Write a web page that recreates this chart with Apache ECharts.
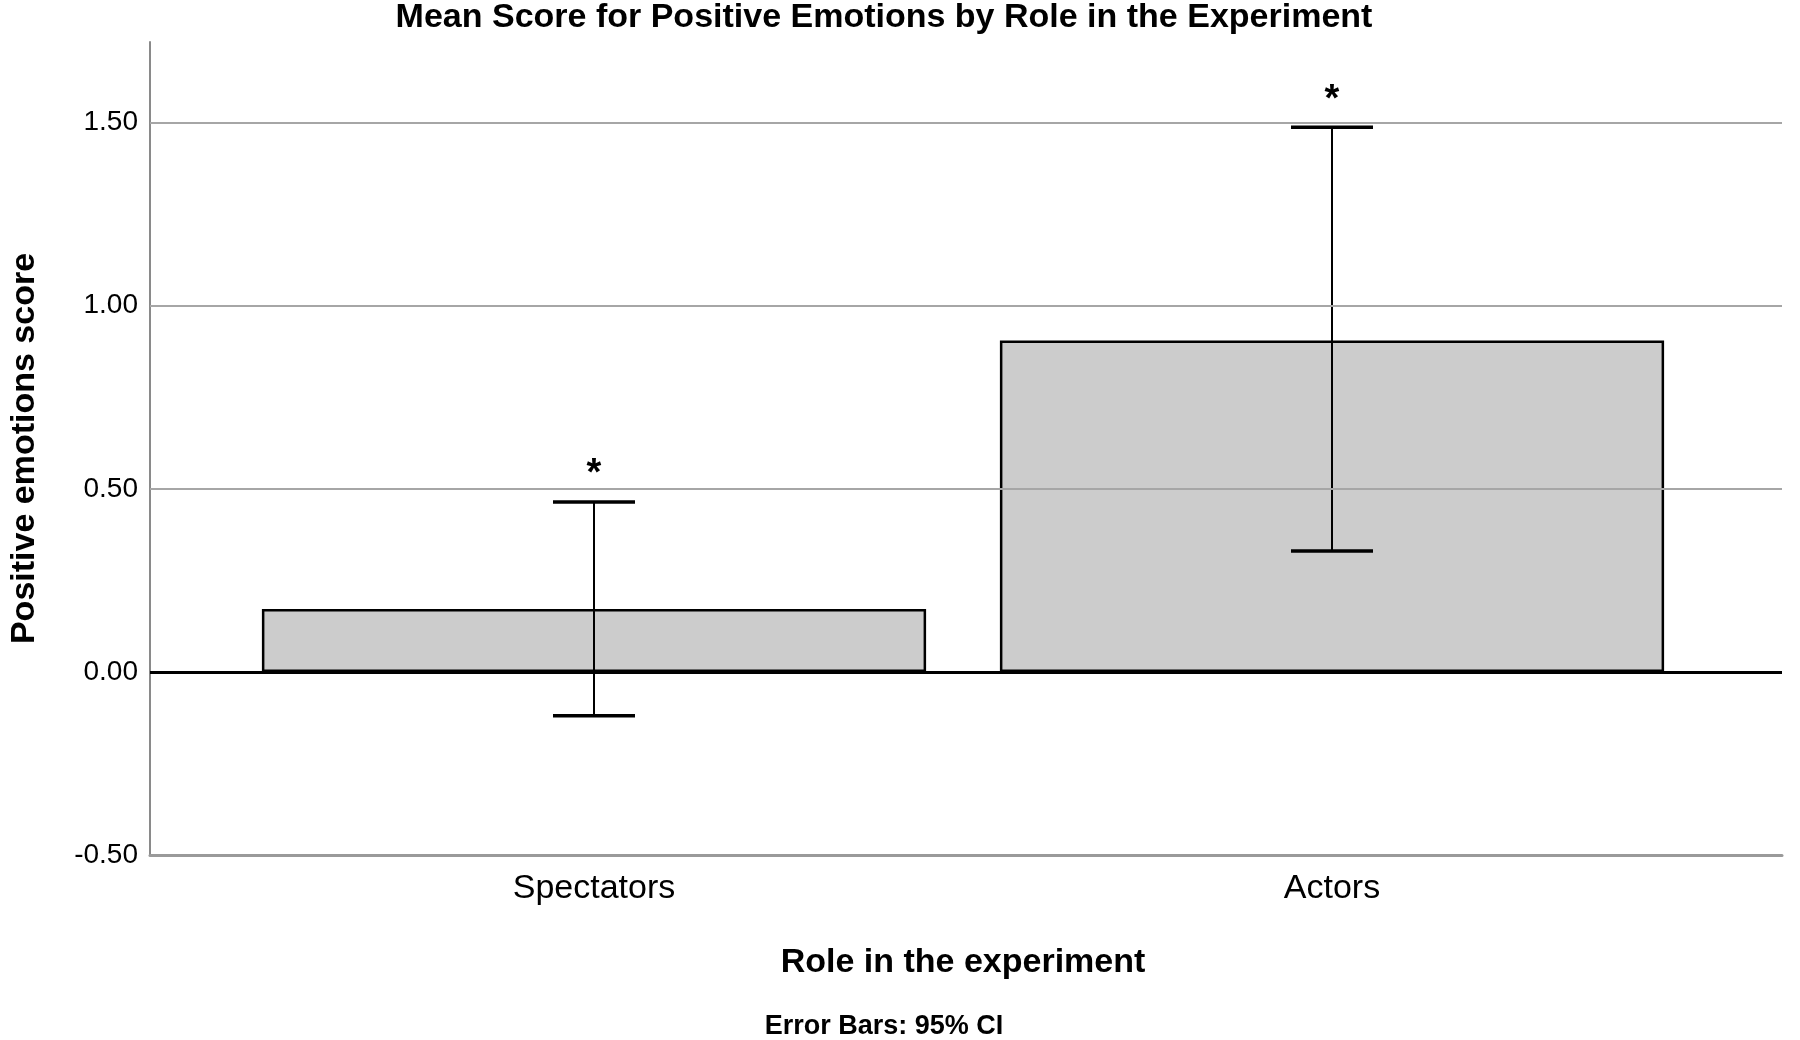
<!DOCTYPE html>
<html>
<head>
<meta charset="utf-8">
<script src="https://cdn.jsdelivr.net/npm/echarts@6/dist/echarts.min.js"></script>
<style>
html,body{margin:0;padding:0;background:#fff;}
#chart{width:1800px;height:1040px;}
</style>
</head>
<body>
<div id="chart"></div>
<script>
const categories = ['Spectators', 'Actors'];
const meanValues = [0.172, 0.905];
const ciLower = [-0.120, 0.330];
const ciUpper = [0.464, 1.487];
const significance = ['*', '*'];
const yTicks = [-0.5, 0.0, 0.5, 1.0, 1.5];
const gridTicks = [0.5, 1.0, 1.5];

const FONT = "'Liberation Sans', Arial, sans-serif";
const Y_MIN = -0.5, Y_MAX = 1.72;

const chart = echarts.init(document.getElementById('chart'), null, {renderer: 'canvas'});

const option = {
  backgroundColor: '#fff',
  animation: false,
  title: [
    {
      text: 'Mean Score for Positive Emotions by Role in the Experiment',
      left: 884, top: 1, textAlign: 'center', padding: 0,
      textStyle: {fontFamily: FONT, fontWeight: 'bold', fontSize: 34, color: '#000'}
    },
    {
      text: 'Error Bars: 95% CI',
      left: 884, top: 1013, textAlign: 'center', padding: 0,
      textStyle: {fontFamily: FONT, fontWeight: 'bold', fontSize: 27, color: '#000'}
    }
  ],
  grid: [
    {left: 142, right: 18, top: 42, bottom: 185},
    {left: 225, right: 99, top: 42, bottom: 185}
  ],
  xAxis: [
    {
      gridIndex: 0, type: 'category', data: categories,
      axisLine: {show: true, onZero: false, lineStyle: {color: '#9a9a9a', width: 3}},
      axisTick: {show: false}, axisLabel: {show: false}, splitLine: {show: false}
    },
    {
      gridIndex: 1, type: 'category', data: categories,
      axisLine: {show: false}, axisTick: {show: false},
      axisLabel: {fontFamily: FONT, fontSize: 34, color: '#000', margin: 17},
      name: 'Role in the experiment', nameLocation: 'middle', nameGap: 91,
      nameTextStyle: {fontFamily: FONT, fontWeight: 'bold', fontSize: 34, color: '#000'}
    }
  ],
  yAxis: [
    {
      gridIndex: 0, type: 'value', min: Y_MIN, max: Y_MAX, interval: 0.5,
      axisLine: {show: true, lineStyle: {color: '#8a8a8a', width: 2}},
      axisTick: {show: false}, splitLine: {show: false},
      axisLabel: {
        fontFamily: FONT, fontSize: 28, color: '#000', margin: 12,
        formatter: function (v) {
          const hit = yTicks.some(t => Math.abs(t - v) < 1e-6);
          return hit ? v.toFixed(2) : '';
        }
      },
      name: 'Positive emotions score', nameLocation: 'middle', nameGap: 108, nameRotate: 90,
      nameTextStyle: {fontFamily: FONT, fontWeight: 'bold', fontSize: 34, color: '#000'}
    },
    {
      gridIndex: 1, type: 'value', min: Y_MIN, max: Y_MAX, interval: 0.5, show: false,
      splitLine: {show: false}
    }
  ],
  series: [
    {
      type: 'line', xAxisIndex: 0, yAxisIndex: 0, data: [], silent: true,
      markLine: {
        symbol: 'none', silent: true, label: {show: false},
        data: gridTicks.map(t => ({yAxis: t, lineStyle: {color: '#a6a6a6', width: 2, type: 'solid'}}))
          .concat([{yAxis: 0, lineStyle: {color: '#000', width: 3, type: 'solid'}}])
      },
      z: 1
    },
    {
      type: 'bar', xAxisIndex: 1, yAxisIndex: 1, data: meanValues, barWidth: '90%',
      itemStyle: {color: '#cccccc', borderColor: '#000', borderWidth: 2.5},
      z: 2
    },
    {
      type: 'custom', xAxisIndex: 1, yAxisIndex: 1,
      data: categories.map((c, i) => [i, ciLower[i], ciUpper[i]]),
      renderItem: function (params, api) {
        const i = api.value(0);
        const lo = api.coord([i, api.value(1)]);
        const hi = api.coord([i, api.value(2)]);
        const half = 41;
        return {
          type: 'group',
          children: [
            {type: 'line', shape: {x1: hi[0], y1: hi[1], x2: lo[0], y2: lo[1]}, style: {stroke: '#000', lineWidth: 2}},
            {type: 'line', shape: {x1: hi[0] - half, y1: hi[1], x2: hi[0] + half, y2: hi[1]}, style: {stroke: '#000', lineWidth: 3.5}},
            {type: 'line', shape: {x1: lo[0] - half, y1: lo[1], x2: lo[0] + half, y2: lo[1]}, style: {stroke: '#000', lineWidth: 3.5}},
            {type: 'text', x: hi[0], y: hi[1] - 27, style: {text: significance[params.dataIndex], fontFamily: FONT, fontWeight: 'bold', fontSize: 38, fill: '#000', align: 'center', verticalAlign: 'middle'}}
          ]
        };
      },
      z: 3
    }
  ]
};
chart.setOption(option);
</script>
</body>
</html>
